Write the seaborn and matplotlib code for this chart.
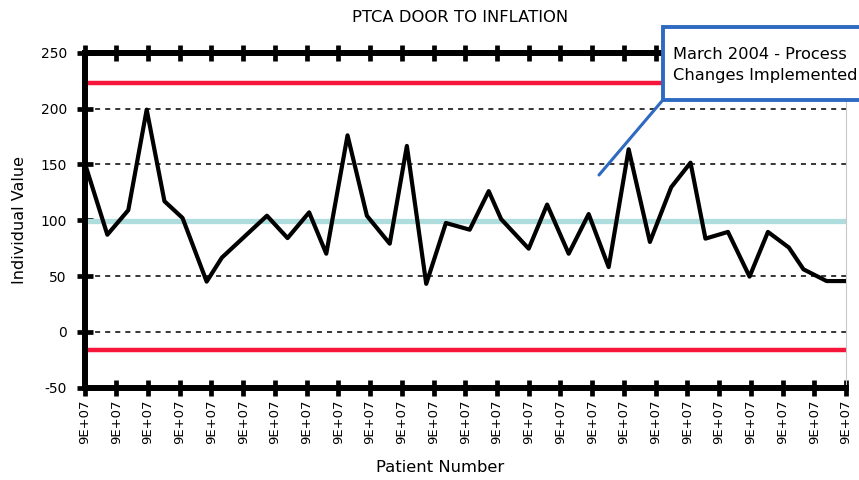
import matplotlib
matplotlib.use("Agg")
import matplotlib.pyplot as plt
import seaborn as sns
import pandas as pd
from matplotlib.lines import Line2D
from matplotlib.patches import Rectangle

# ---- data ----
patient_pos = [0, 0.72, 1.38, 1.96, 2.52, 3.09, 3.85, 4.33, 5.03, 5.75,
               6.40, 7.08, 7.62, 8.29, 8.90, 9.62, 10.16, 10.77, 11.39, 12.14,
               12.74, 13.13, 14.00, 14.58, 15.26, 15.89, 16.52, 17.15, 17.82, 18.49,
               19.10, 19.57, 20.28, 20.96, 21.54, 22.20, 22.66, 23.39, 24.0]
individual_value = [152, 87, 109, 199, 117, 102, 45, 66.5, 85, 104,
                    84, 107, 70, 176, 104, 79, 166.5, 43, 97.5, 91.5,
                    126, 101, 74.5, 114, 70, 105.5, 58, 163.5, 80.5, 129.5,
                    151.5, 83.5, 89.5, 49.5, 89.5, 75.5, 56, 45.5, 45.5]
ucl = 222.5
center = 99
lcl = -16.5
y_ticks = [-50, 0, 50, 100, 150, 200, 250]
x_ticks = list(range(0, 25))
x_tick_labels = ["9E+07"] * 25
title = "PTCA DOOR TO INFLATION"
annotation = "March 2004 - Process\nChanges Implemented"

df = pd.DataFrame({"Patient Number": patient_pos, "Individual Value": individual_value})

sns.set_style("white")
plt.rcParams['font.family'] = ['DejaVu Sans']
plt.rcParams['axes.unicode_minus'] = False
plt.rcParams['text.color'] = 'black'

W, H = 859, 480
fig = plt.figure(figsize=(W / 100, H / 100), dpi=100)
ax = fig.add_axes([84.5 / W, 1 - 387.7 / H, (846 - 84.5) / W, (387.7 - 52.7) / H])

# gridlines
for yv in [0, 50, 100, 150, 200]:
    ax.axhline(yv, color="black", lw=1.1, ls=(0, (3.3, 3.3)), zorder=1)
# control lines
ax.axhline(center, color="#afdcdc", lw=3.8, zorder=2)
ax.axhline(ucl, color="#f5163a", lw=3.2, zorder=2)
ax.axhline(lcl, color="#f5163a", lw=3.2, zorder=2)

sns.lineplot(data=df, x="Patient Number", y="Individual Value", ax=ax,
             color="black", lw=3.0, zorder=3, sort=False, estimator=None)

ax.set_xlim(0, 24)
ax.set_ylim(-50, 250)
ax.set_yticks(y_ticks)
ax.set_xticks(x_ticks)
ax.set_xticklabels(x_tick_labels, rotation=90)
ax.tick_params(axis="y", direction="inout", length=11.5, width=3.4, pad=7,
               labelsize=10, colors="black", left=True)
ax.tick_params(axis="x", direction="inout", length=11.5, width=3.4, pad=2.5,
               labelsize=9.5, colors="black", top=True, bottom=True)
ax.set_xlabel("")
ax.set_ylabel("")

for side in ["left", "bottom", "top"]:
    ax.spines[side].set_linewidth(4.3)
    ax.spines[side].set_color("black")
ax.spines["right"].set_linewidth(0.8)
ax.spines["right"].set_color("#c8c8c8")

fig.text(460 / W, 1 - 17 / H, title, ha="center", va="center", fontsize=11.8, color="black")
fig.text(440 / W, 1 - 467 / H, "Patient Number", ha="center", va="center",
         fontsize=11.8, color="black")
fig.text(20 / W, 1 - 220 / H, "Individual Value", ha="center", va="center",
         rotation=90, fontsize=11.5, color="black")

# annotation callout
fig.add_artist(Line2D([599 / W, 662 / W], [1 - 175 / H, 1 - 101 / H],
                      color="#2e69c2", lw=2.2, transform=fig.transFigure))
fig.add_artist(Rectangle((663 / W, 1 - 100 / H), 220 / W, 73 / H,
                         transform=fig.transFigure, facecolor="white",
                         edgecolor="#2e69c2", lw=2.8, zorder=5))
fig.text(673 / W, 1 - 47 / H, annotation, ha="left", va="top", fontsize=11.7,
         linespacing=1.5, zorder=6, color="black")

fig.savefig("out.png", dpi=100)
